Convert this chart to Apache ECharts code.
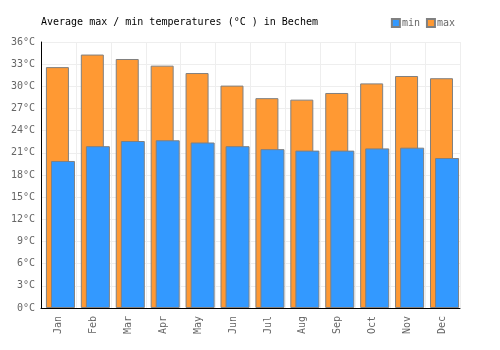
<!DOCTYPE html>
<html>
<head>
<meta charset="utf-8">
<title>Bechem temperatures</title>
<script src="https://cdn.jsdelivr.net/npm/echarts@6/dist/echarts.min.js"></script>
<style>
	html,body{margin:0;padding:0;background:#fff}
	#main{width:500px;height:350px}
</style>
</head>
<body>
<div id="main"></div>
<script>
	var months = ['Jan','Feb','Mar','Apr','May','Jun','Jul','Aug','Sep','Oct','Nov','Dec'];
	var maxTemp = [32.6, 34.3, 33.7, 32.8, 31.8, 30.1, 28.4, 28.2, 29.1, 30.4, 31.4, 31.1];
	var minTemp = [19.9, 21.9, 22.6, 22.7, 22.4, 21.9, 21.5, 21.3, 21.3, 21.6, 21.7, 20.3];

	var font = 'DejaVu Sans Mono';
	var chart = echarts.init(document.getElementById('main'));
	chart.setOption({
		animation: false,
		title: {
			text: 'Average max / min temperatures (°C ) in Bechem',
			left: 36, top: 12,
			textStyle: {fontFamily: font, fontSize: 10, fontWeight: 'normal', color: '#000'}
		},
		legend: {
			right: 40, top: 13,
			itemWidth: 8, itemHeight: 8, itemGap: 6,
			icon: 'rect',
			textStyle: {fontFamily: font, fontSize: 10, color: '#666', padding: [0, 0, 0, -3]},
			data: ['min', 'max']
		},
		grid: {left: 41, right: 40, top: 42, bottom: 42},
		xAxis: {
			type: 'category',
			data: months,
			axisLine: {lineStyle: {color: '#000'}},
			axisTick: {show: false},
			axisLabel: {rotate: 90, fontFamily: font, fontSize: 10, color: '#666', margin: 8},
			splitLine: {show: true, lineStyle: {color: '#eeeeee'}}
		},
		yAxis: {
			type: 'value',
			min: 0, max: 36, interval: 3,
			axisLine: {show: true, lineStyle: {color: '#000'}},
			axisTick: {show: false},
			axisLabel: {formatter: '{value}°C', fontFamily: font, fontSize: 10, color: '#666', margin: 6},
			splitLine: {lineStyle: {color: '#eeeeee'}}
		},
		series: [
			// empty spacer so the overlapping pair sits a little right of centre
			{name: 'spacer', type: 'bar', data: [], barWidth: 18, silent: true},
			{
				name: 'max', type: 'bar', data: maxTemp,
				barWidth: 23, barGap: '-78%',
				itemStyle: {color: '#ff9933', borderColor: '#808080', borderWidth: 1}
			},
			{
				name: 'min', type: 'bar', data: minTemp,
				barWidth: 24,
				itemStyle: {color: '#3399ff', borderColor: '#808080', borderWidth: 1}
			}
		]
	});
</script>
</body>
</html>
